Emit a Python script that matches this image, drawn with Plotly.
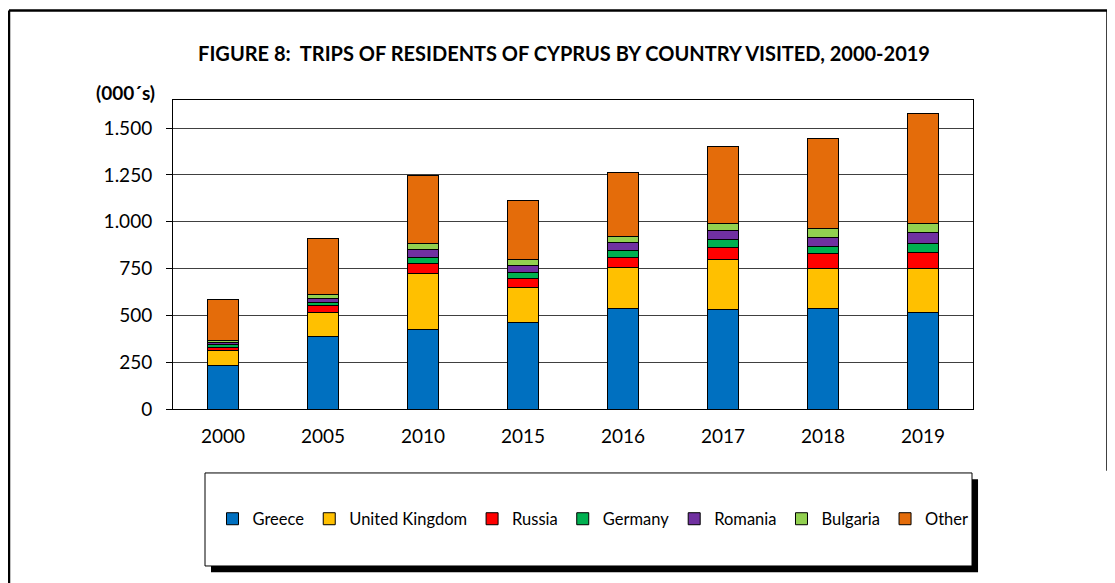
import plotly.graph_objects as go

# Trips of residents of Cyprus by country visited (thousands)
years = ["2000", "2005", "2010", "2015", "2016", "2017", "2018", "2019"]
greece = [231, 386, 425, 463, 535, 533, 538, 516]
united_kingdom = [82, 128, 299, 187, 219, 263, 213, 232]
russia = [16, 37, 54, 48, 57, 66, 77, 87]
germany = [14, 20, 32, 33, 37, 45, 40, 51]
romania = [12, 18, 44, 36, 43, 48, 50, 54]
bulgaria = [10, 23, 30, 30, 28, 37, 45, 49]
other = [221, 301, 361, 319, 345, 412, 484, 589]

y_ticks = [0, 250, 500, 750, 1000, 1250, 1500]

SERIES = [
    ("Greece", greece, "#0070C0"),
    ("United Kingdom", united_kingdom, "#FFC000"),
    ("Russia", russia, "#FF0000"),
    ("Germany", germany, "#00B050"),
    ("Romania", romania, "#7030A0"),
    ("Bulgaria", bulgaria, "#92D050"),
    ("Other", other, "#E46C0A"),
]

FONT = "Lato, 'Open Sans', sans-serif"

fig = go.Figure()
for name, values, color in SERIES:
    fig.add_trace(go.Bar(
        x=years, y=values, name=name,
        marker=dict(color=color, line=dict(color="#000000", width=1)),
        width=0.31,
    ))

# outer frame of the figure
fig.add_shape(type="line", xref="paper", yref="paper",
              x0=-0.205, x1=-0.205, y0=1.29, y1=-0.6,
              line=dict(color="black", width=2.5))
fig.add_shape(type="line", xref="paper", yref="paper",
              x0=-0.205, x1=1.1675, y0=1.29, y1=1.29,
              line=dict(color="black", width=2.5))
fig.add_shape(type="line", xref="paper", yref="paper",
              x0=1.1675, x1=1.1675, y0=1.29, y1=-0.2,
              line=dict(color="black", width=1.5))

# legend box with drop shadow
fig.add_shape(type="rect", xref="paper", yref="paper",
              x0=0.0475, x1=1.0063, y0=-0.227, y1=-0.528,
              fillcolor="black", line=dict(width=0), layer="below")
fig.add_shape(type="rect", xref="paper", yref="paper",
              x0=0.04, x1=0.99875, y0=-0.207, y1=-0.508,
              fillcolor="white", line=dict(color="black", width=1), layer="below")

fig.add_annotation(text="<b>(000´s)</b>", xref="paper", yref="paper",
                   x=-0.059, y=1.023, xanchor="center", yanchor="middle",
                   showarrow=False,
                   font=dict(size=19, color="black", family=FONT))

fig.update_layout(
    width=1115, height=583,
    barmode="stack",
    separators=",.",
    font=dict(family=FONT, size=19, color="black"),
    title=dict(text="<b>FIGURE 8:  TRIPS OF RESIDENTS OF CYPRUS BY COUNTRY VISITED, 2000-2019</b>",
               x=0.4987, xanchor="center", y=0.921, yanchor="middle",
               font=dict(size=20, family=FONT, color="black")),
    margin=dict(l=165, r=150, t=92, b=182),
    plot_bgcolor="white", paper_bgcolor="white",
    xaxis=dict(showline=True, linecolor="black", linewidth=1, mirror=True,
               ticks="", ticklabelstandoff=10, showgrid=False),
    yaxis=dict(range=[0, 1650], tickvals=y_ticks, tickformat=",",
               showline=True, linecolor="black", linewidth=1, mirror=True,
               ticks="outside", ticklen=6, tickcolor="black",
               showgrid=True, gridcolor="#404040", gridwidth=1,
               ticklabelstandoff=10, zeroline=False),
    legend=dict(orientation="h", x=0.525, xanchor="center", y=-0.356, yanchor="middle",
                font=dict(size=16.5, family=FONT), itemwidth=30,
                bgcolor="rgba(0,0,0,0)", traceorder="normal"),
)

fig.write_html("out.html")
